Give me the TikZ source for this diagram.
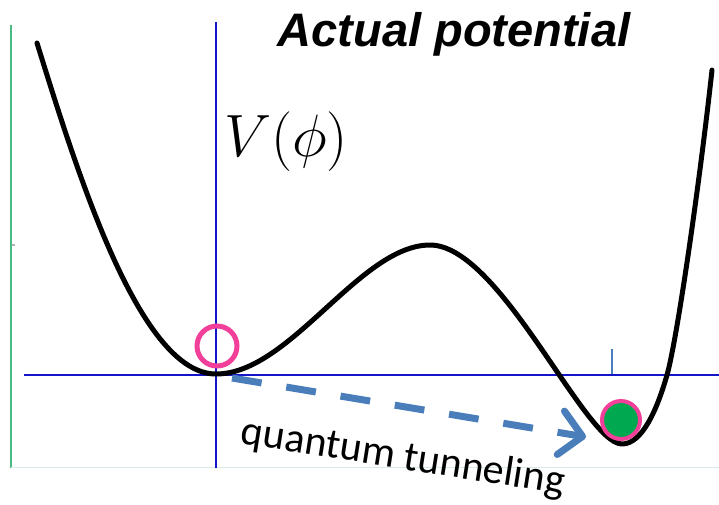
\documentclass[tikz,border=0pt]{standalone}
\usepackage{fontspec}
\setmainfont{Liberation Sans}
\newfontfamily\calib{Carlito}
\usetikzlibrary{arrows.meta}
\definecolor{axisblue}{HTML}{1414C8}
\definecolor{steel}{HTML}{4A7EBB}
\definecolor{hotpink}{HTML}{F2409A}
\definecolor{dotgreen}{HTML}{00A84F}
\definecolor{frameline}{HTML}{4CB884}
\definecolor{faintline}{HTML}{D6ECEC}
\tikzset{
  px/.style={x=1pt,y=-1pt},
  axisline/.style={draw=axisblue,line width=1.6pt},
  potential/.style={draw=black,line width=5pt,line cap=round,line join=round},
  falsevac/.style={circle,draw=hotpink,line width=5pt,minimum size=40pt,inner sep=0pt},
  truevac/.style={circle,draw=hotpink,line width=4pt,fill=dotgreen,minimum size=38pt,inner sep=0pt},
  tunnel/.style={draw=steel,line width=7pt,dash pattern=on 30pt off 25pt,
    -{Straight Barb[length=22pt,width=44pt,line width=7pt,line cap=round,line join=round]}},
}
\begin{document}
\begin{tikzpicture}[px]
\useasboundingbox (0,0) rectangle (719,504);
\fill[white] (0,0) rectangle (719,504);
% frame lines
\draw[frameline,line width=1.2pt] (11,25) -- (11,468);
\draw[faintline,line width=1pt] (11,467) -- (719,467);
\fill[gray!60] (12,244) rectangle (15,246);
% axes
\draw[axisline] (216,22) -- (216,468);
\draw[axisline] (24,375) -- (719,375);
\draw[steel,line width=1.2pt] (612,349) -- (612,374);
% potential curve
\draw[potential] (37,43) .. controls (78,175) and (140,374) .. (216,374)
  .. controls (290,374) and (360,245) .. (430,245)
  .. controls (500,245) and (585,444) .. (622,444)
  .. controls (642,444) and (657,410) .. (667,375)
  .. controls (677,340) and (700,180) .. (712,70);
% vacua
\node[falsevac] (fv) at (217,346) {};
\node[truevac] (tv) at (621,420) {};
% tunneling arrow
\coordinate (ts) at (232,378);
\coordinate (te) at (586,437);
\draw[tunnel] (ts) -- (te);
% labels
\node[font=\bfseries\itshape\fontsize{47}{47}\selectfont,inner sep=0pt] (title) at (454,34) {Actual potential};
\node[font=\Huge,scale=2.4,inner sep=0pt] (vlabel) at (286,142) {$V(\phi)$};
\node[font=\calib\fontsize{42}{42}\selectfont,inner sep=0pt,rotate=-9] (qt) at (403,458) {quantum tunneling};
\end{tikzpicture}
\end{document}
